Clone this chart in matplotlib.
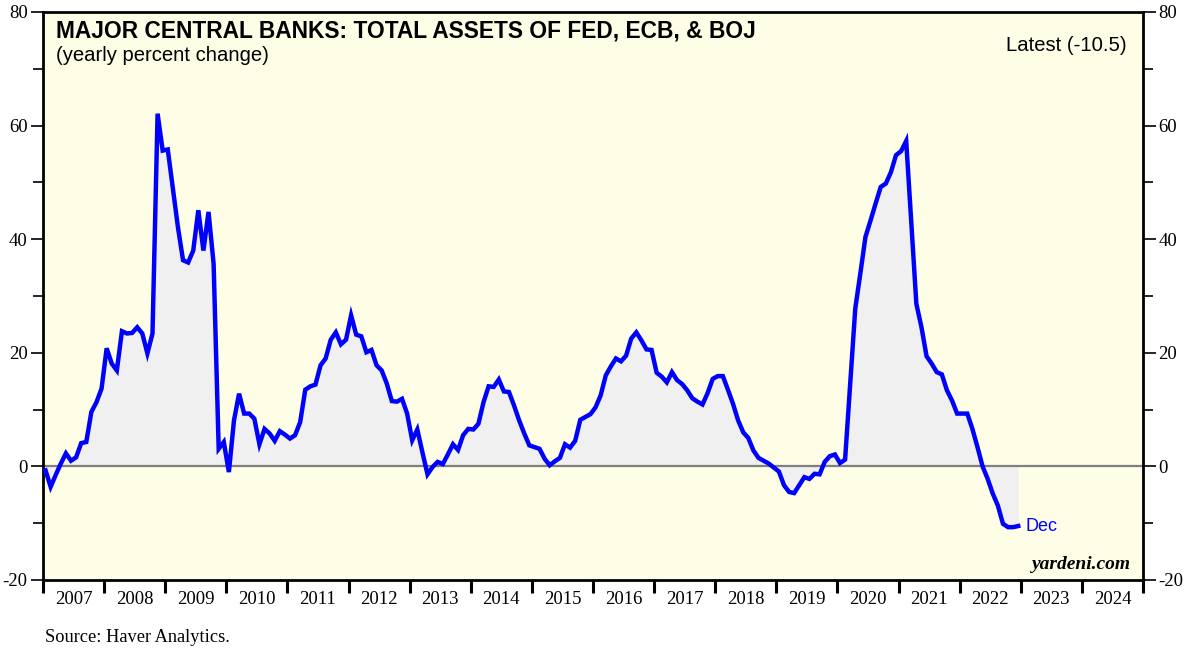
import numpy as np
import matplotlib
matplotlib.use("Agg")
import matplotlib.pyplot as plt
from matplotlib.ticker import MultipleLocator, FixedLocator, NullFormatter, FixedFormatter

plt.rcParams["axes.unicode_minus"] = False

# Monthly yearly % change, Jan 2007 .. Dec 2022
start_year = 2007
yoy = [
    -0.7, -3.6, -1.5, 0.5, 2.3, 1.0, 1.6, 4.1, 4.3, 9.6, 11.3, 13.7,      # 2007
    20.8, 18.1, 16.9, 23.8, 23.4, 23.5, 24.5, 23.4, 19.9, 23.4, 62.1, 55.6,  # 2008
    55.8, 48.9, 42.1, 36.3, 35.9, 38.0, 45.1, 38.0, 44.8, 35.7, 3.1, 4.3,    # 2009
    -1.0, 8.1, 12.8, 9.3, 9.3, 8.4, 3.9, 6.6, 5.8, 4.5, 6.2, 5.6,            # 2010
    4.9, 5.5, 7.8, 13.5, 14.1, 14.4, 17.8, 19.0, 22.3, 23.6, 21.5, 22.3,     # 2011
    26.6, 23.2, 22.9, 20.1, 20.5, 17.8, 16.9, 14.6, 11.5, 11.4, 11.9, 9.3,   # 2012
    4.6, 6.5, 2.5, -1.4, -0.1, 0.8, 0.4, 2.1, 3.9, 2.9, 5.5, 6.6,            # 2013
    6.5, 7.5, 11.3, 14.1, 14.0, 15.3, 13.2, 13.1, 10.7, 8.1, 5.8, 3.7,       # 2014
    3.4, 3.1, 1.35, 0.2, 0.9, 1.5, 3.9, 3.3, 4.5, 8.2, 8.7, 9.2,             # 2015
    10.4, 12.5, 16.0, 17.6, 19.0, 18.5, 19.5, 22.5, 23.6, 22.2, 20.6, 20.5,  # 2016
    16.5, 15.8, 14.8, 16.6, 15.2, 14.5, 13.4, 12.0, 11.4, 10.9, 12.9, 15.4,  # 2017
    15.9, 15.9, 13.5, 11.0, 8.1, 6.0, 5.0, 2.8, 1.5, 1.0, 0.5, -0.2,         # 2018
    -0.9, -3.3, -4.5, -4.7, -3.3, -1.9, -2.2, -1.3, -1.4, 0.8, 1.8, 2.1,     # 2019
    0.6, 1.2, 14.6, 27.8, 34.0, 40.4, 43.3, 46.3, 49.2, 49.8, 51.8, 54.8,    # 2020
    55.5, 57.3, 43.0, 28.6, 24.5, 19.4, 18.1, 16.6, 16.2, 13.4, 11.6, 9.3,   # 2021
    9.3, 9.3, 6.6, 3.4, 0.0, -2.2, -4.8, -6.9, -10.1, -10.7, -10.7, -10.5,   # 2022
]
years = list(range(2007, 2025))
latest = -10.5

SERIF = ["Liberation Serif", "DejaVu Serif"]
SANS = ["Liberation Sans", "DejaVu Sans"]
BLUE = "#0000FF"

x = start_year + (np.arange(len(yoy)) + 0.5) / 12.0
y = np.array(yoy)

fig = plt.figure(figsize=(12, 6.56), dpi=100)
ax = fig.add_axes([43 / 1200, 1 - 580 / 656, 1100 / 1200, 568 / 656])
ax.set_facecolor("#FEFDE6")

ax.fill_between(x, y, 0, color="#F0F0F0", lw=0, zorder=1)
ax.axhline(0, color="#7F7F7F", lw=1.6, zorder=2)
ax.plot(x, y, color=BLUE, lw=3.2, solid_joinstyle="miter", zorder=3)

ax.set_xlim(years[0], years[-1] + 1)
ax.set_ylim(-20, 80)

for s in ax.spines.values():
    s.set_linewidth(2)
    s.set_color("black")

# y axis ticks on both sides
ax.yaxis.set_major_locator(MultipleLocator(20))
ax.yaxis.set_minor_locator(MultipleLocator(10))
ax.tick_params(axis="y", which="both", left=True, right=True, labelleft=True,
               labelright=True, direction="out", width=1.2, labelsize=13.5,
               colors="black", pad=2)
ax.tick_params(axis="y", which="major", length=9)
ax.tick_params(axis="y", which="minor", length=7)
for lbl in ax.get_yticklabels():
    lbl.set_family(SERIF)

# x axis: ticks at year boundaries, labels at mid-year
ax.xaxis.set_major_locator(FixedLocator(years + [years[-1] + 1]))
ax.xaxis.set_major_formatter(NullFormatter())
ax.xaxis.set_minor_locator(FixedLocator([yr + 0.5 for yr in years]))
ax.xaxis.set_minor_formatter(FixedFormatter([str(yr) for yr in years]))
ax.tick_params(axis="x", which="major", direction="out", length=9, width=2.2)
ax.tick_params(axis="x", which="minor", length=0, labelsize=13.5, pad=8)
for lbl in ax.xaxis.get_minorticklabels():
    lbl.set_family(SERIF)

ax.text(0.012, 0.987, "MAJOR CENTRAL BANKS: TOTAL ASSETS OF FED, ECB, & BOJ",
        transform=ax.transAxes, ha="left", va="top", fontsize=16.4,
        fontweight="bold", family=SANS)
ax.text(0.012, 0.94, "(yearly percent change)", transform=ax.transAxes,
        ha="left", va="top", fontsize=14.6, family=SANS)
ax.text(0.985, 0.958, f"Latest ({latest})", transform=ax.transAxes,
        ha="right", va="top", fontsize=14.6, family=SANS)
ax.annotate("Dec", xy=(x[-1], y[-1]), xytext=(5, 0), textcoords="offset points",
            ha="left", va="center", color=BLUE, fontsize=13, family=SANS)
ax.text(0.989, 0.012, "yardeni.com", transform=ax.transAxes, ha="right",
        va="bottom", fontsize=14, style="italic", fontweight="bold",
        family=SERIF)

fig.text(45 / 1200, 1 - 637 / 656, "Source: Haver Analytics.", ha="left",
         va="center", fontsize=13.2, family=SERIF)

fig.savefig("out.png", dpi=100, facecolor="white")
